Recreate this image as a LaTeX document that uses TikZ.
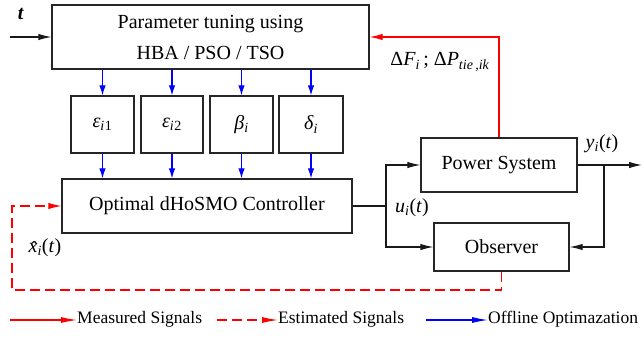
\documentclass[tikz,border=0pt]{standalone}
\usepackage{fontspec}
\setmainfont{LiberationSerif}[Extension=.ttf, UprightFont=*-Regular, ItalicFont=*-Italic, BoldFont=*-Bold, BoldItalicFont=*-BoldItalic]
\usetikzlibrary{arrows.meta}
\newcommand\mysb[1]{\textsubscript{\textit{#1}}}
\newcommand\myxhat{\ooalign{\textit{x}\cr\hidewidth\raisebox{-0.12em}{\textit{ˆ}}\hidewidth\cr}}
\begin{document}
\begin{tikzpicture}[x=1pt,y=-1pt,
  box/.style={draw=black!85, line width=1.3pt, inner sep=0pt, align=center,
    font=\fontsize{20}{31}\selectfont},
  lab/.style={inner sep=0pt, font=\fontsize{20}{24}\selectfont},
  leg/.style={inner sep=0pt, anchor=west, font=\fontsize{17.5}{20}\selectfont},
  wire/.style={line width=1.1pt, draw=black!90},
  blk/.style={wire, -{Latex[length=13pt,width=6.5pt]}},
  bl/.style={line width=1.1pt, draw=blue, -{Latex[length=10pt,width=6.5pt]}},
  rd/.style={line width=1.1pt, draw=red, -{Latex[length=13pt,width=6.5pt]}},
  rdd/.style={rd, dash pattern=on 10pt off 5pt}]
\useasboundingbox (0,0) rectangle (644,337);

% boxes
\node[box, minimum width=317pt, minimum height=64pt] (top) at (210.5,37)
  {Parameter tuning using\\HBA / PSO / TSO};
\node[box, minimum width=63pt, minimum height=57pt] (s1) at (102.5,124.5)
  {\textit{ε}\mysb{i}\textsubscript{1}};
\node[box, minimum width=62pt, minimum height=57pt] (s2) at (172,124.5)
  {\textit{ε}\mysb{i}\textsubscript{2}};
\node[box, minimum width=63pt, minimum height=57pt] (s3) at (241.5,124.5)
  {\textit{β}\mysb{i}};
\node[box, minimum width=64pt, minimum height=57pt] (s4) at (311,124.5)
  {\textit{δ}\mysb{i}};
\node[box, minimum width=290pt, minimum height=54pt] (ctrl) at (207,206)
  {Optimal dHoSMO Controller};
\node[box, minimum width=156pt, minimum height=54pt] (ps) at (499,165)
  {Power System};
\node[box, minimum width=135pt, minimum height=48pt] (obs) at (501.5,247)
  {Observer};

% labels
\node[lab] (tl) at (21,14) {\textbf{\textit{t}}};
\node[lab] (dfl) at (440,62) {Δ\textit{F}\mysb{i}\,; Δ\textit{P}\mysb{tie\,,ik}};
\node[lab] (ul) at (412,208) {\textit{u}\mysb{i}(\textit{t})};
\node[lab] (yl) at (602,144) {\textit{y}\mysb{i}(\textit{t})};
\node[lab] (xl) at (45,248) {\myxhat\mysb{i}(\textit{t})};

% input t
\coordinate (tin) at (10,37);
\draw[blk] (tin) -- (top.west);

% blue arrows
\foreach \s in {s1,s2,s3,s4}{
  \draw[bl] (\s.north |- top.south) -- (\s.north);
  \draw[bl] (\s.south) -- (\s.south |- ctrl.north);
}

% controller output
\coordinate (uj) at (386,206);
\draw[wire] (ctrl.east) -- (uj);
\draw[blk] (uj) |- (ps.west);
\draw[blk] (uj) |- (obs.west);

% plant output
\coordinate (yo) at (642,165);
\coordinate (yb) at (604,165);
\draw[blk] (ps.east) -- (yo);
\draw[blk] (yb) |- (obs.east);

% measured feedback
\draw[rd] (ps.north) |- (top.east);

% estimated feedback
\coordinate (dl) at (12,290);
\draw[rdd] (obs.south) |- (dl) |- (ctrl.west);

% legend
\node[leg] (lm) at (77,319) {Measured Signals};
\node[leg] (le) at (278,319) {Estimated Signals};
\node[leg] (lo) at (488,319) {Offline Optimazation};
\coordinate (la) at (10,320);
\coordinate (lb) at (217,320);
\coordinate (lc) at (426,320);
\draw[rd, -{Latex[length=16pt,width=6pt]}] (la) -- (lm.west |- la);
\draw[rdd, -{Latex[length=16pt,width=6pt]}] (lb) -- (le.west |- lb);
\draw[bl, -{Latex[length=16pt,width=6pt]}] (lc) -- (lo.west |- lc);
\end{tikzpicture}
\end{document}
